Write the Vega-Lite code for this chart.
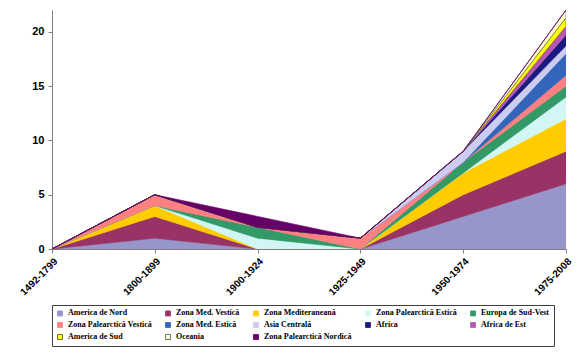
{
  "$schema": "https://vega.github.io/schema/vega-lite/v6.json",
  "width": 514,
  "height": 239,
  "padding": {"left": 18, "top": 10, "right": 10, "bottom": 5},
  "background": "white",
  "config": {
    "view": {"stroke": null},
    "axis": {"labelFont": "Liberation Sans", "labelFontWeight": "bold", "labelColor": "#000000", "domainColor": "#808080", "tickColor": "#808080", "grid": false, "title": null},
    "legend": {"orient": "bottom", "labelFont": "Liberation Serif", "labelFontWeight": "bold", "labelFontSize": 8, "labelColor": "#000000", "symbolType": "square", "symbolSize": 25, "symbolStrokeWidth": 0.8, "columns": 5, "columnPadding": 11, "rowPadding": 2, "padding": 4, "strokeColor": "#404040", "title": null, "labelLimit": 200, "offset": 8}
  },
  "data": {"values": [
    {"p": "1492-1799", "k": 1, "s": "America de Nord", "v": 0},
    {"p": "1492-1799", "k": 2, "s": "Zona Med. Vestică", "v": 0},
    {"p": "1492-1799", "k": 3, "s": "Zona Mediteraneană", "v": 0},
    {"p": "1492-1799", "k": 4, "s": "Zona Palearctică Estică", "v": 0},
    {"p": "1492-1799", "k": 5, "s": "Europa de Sud-Vest", "v": 0},
    {"p": "1492-1799", "k": 6, "s": "Zona Palearctică Vestică", "v": 0},
    {"p": "1492-1799", "k": 7, "s": "Zona Med. Estică", "v": 0},
    {"p": "1492-1799", "k": 8, "s": "Asia Centrală", "v": 0},
    {"p": "1492-1799", "k": 9, "s": "Africa", "v": 0},
    {"p": "1492-1799", "k": 10, "s": "Africa de Est", "v": 0},
    {"p": "1492-1799", "k": 11, "s": "America de Sud", "v": 0},
    {"p": "1492-1799", "k": 12, "s": "Oceania", "v": 0},
    {"p": "1492-1799", "k": 13, "s": "Zona Palearctică Nordică", "v": 0},
    {"p": "1800-1899", "k": 1, "s": "America de Nord", "v": 1},
    {"p": "1800-1899", "k": 2, "s": "Zona Med. Vestică", "v": 2},
    {"p": "1800-1899", "k": 3, "s": "Zona Mediteraneană", "v": 1},
    {"p": "1800-1899", "k": 4, "s": "Zona Palearctică Estică", "v": 0},
    {"p": "1800-1899", "k": 5, "s": "Europa de Sud-Vest", "v": 0},
    {"p": "1800-1899", "k": 6, "s": "Zona Palearctică Vestică", "v": 1},
    {"p": "1800-1899", "k": 7, "s": "Zona Med. Estică", "v": 0},
    {"p": "1800-1899", "k": 8, "s": "Asia Centrală", "v": 0},
    {"p": "1800-1899", "k": 9, "s": "Africa", "v": 0},
    {"p": "1800-1899", "k": 10, "s": "Africa de Est", "v": 0},
    {"p": "1800-1899", "k": 11, "s": "America de Sud", "v": 0},
    {"p": "1800-1899", "k": 12, "s": "Oceania", "v": 0},
    {"p": "1800-1899", "k": 13, "s": "Zona Palearctică Nordică", "v": 0},
    {"p": "1900-1924", "k": 1, "s": "America de Nord", "v": 0},
    {"p": "1900-1924", "k": 2, "s": "Zona Med. Vestică", "v": 0},
    {"p": "1900-1924", "k": 3, "s": "Zona Mediteraneană", "v": 0},
    {"p": "1900-1924", "k": 4, "s": "Zona Palearctică Estică", "v": 1},
    {"p": "1900-1924", "k": 5, "s": "Europa de Sud-Vest", "v": 1},
    {"p": "1900-1924", "k": 6, "s": "Zona Palearctică Vestică", "v": 0},
    {"p": "1900-1924", "k": 7, "s": "Zona Med. Estică", "v": 0},
    {"p": "1900-1924", "k": 8, "s": "Asia Centrală", "v": 0},
    {"p": "1900-1924", "k": 9, "s": "Africa", "v": 0},
    {"p": "1900-1924", "k": 10, "s": "Africa de Est", "v": 0},
    {"p": "1900-1924", "k": 11, "s": "America de Sud", "v": 0},
    {"p": "1900-1924", "k": 12, "s": "Oceania", "v": 0},
    {"p": "1900-1924", "k": 13, "s": "Zona Palearctică Nordică", "v": 1},
    {"p": "1925-1949", "k": 1, "s": "America de Nord", "v": 0},
    {"p": "1925-1949", "k": 2, "s": "Zona Med. Vestică", "v": 0},
    {"p": "1925-1949", "k": 3, "s": "Zona Mediteraneană", "v": 0},
    {"p": "1925-1949", "k": 4, "s": "Zona Palearctică Estică", "v": 0},
    {"p": "1925-1949", "k": 5, "s": "Europa de Sud-Vest", "v": 0},
    {"p": "1925-1949", "k": 6, "s": "Zona Palearctică Vestică", "v": 1},
    {"p": "1925-1949", "k": 7, "s": "Zona Med. Estică", "v": 0},
    {"p": "1925-1949", "k": 8, "s": "Asia Centrală", "v": 0},
    {"p": "1925-1949", "k": 9, "s": "Africa", "v": 0},
    {"p": "1925-1949", "k": 10, "s": "Africa de Est", "v": 0},
    {"p": "1925-1949", "k": 11, "s": "America de Sud", "v": 0},
    {"p": "1925-1949", "k": 12, "s": "Oceania", "v": 0},
    {"p": "1925-1949", "k": 13, "s": "Zona Palearctică Nordică", "v": 0},
    {"p": "1950-1974", "k": 1, "s": "America de Nord", "v": 3},
    {"p": "1950-1974", "k": 2, "s": "Zona Med. Vestică", "v": 2},
    {"p": "1950-1974", "k": 3, "s": "Zona Mediteraneană", "v": 2},
    {"p": "1950-1974", "k": 4, "s": "Zona Palearctică Estică", "v": 0},
    {"p": "1950-1974", "k": 5, "s": "Europa de Sud-Vest", "v": 1},
    {"p": "1950-1974", "k": 6, "s": "Zona Palearctică Vestică", "v": 0},
    {"p": "1950-1974", "k": 7, "s": "Zona Med. Estică", "v": 0},
    {"p": "1950-1974", "k": 8, "s": "Asia Centrală", "v": 1},
    {"p": "1950-1974", "k": 9, "s": "Africa", "v": 0},
    {"p": "1950-1974", "k": 10, "s": "Africa de Est", "v": 0},
    {"p": "1950-1974", "k": 11, "s": "America de Sud", "v": 0},
    {"p": "1950-1974", "k": 12, "s": "Oceania", "v": 0},
    {"p": "1950-1974", "k": 13, "s": "Zona Palearctică Nordică", "v": 0},
    {"p": "1975-2008", "k": 1, "s": "America de Nord", "v": 6},
    {"p": "1975-2008", "k": 2, "s": "Zona Med. Vestică", "v": 3},
    {"p": "1975-2008", "k": 3, "s": "Zona Mediteraneană", "v": 3},
    {"p": "1975-2008", "k": 4, "s": "Zona Palearctică Estică", "v": 2},
    {"p": "1975-2008", "k": 5, "s": "Europa de Sud-Vest", "v": 1},
    {"p": "1975-2008", "k": 6, "s": "Zona Palearctică Vestică", "v": 1},
    {"p": "1975-2008", "k": 7, "s": "Zona Med. Estică", "v": 2},
    {"p": "1975-2008", "k": 8, "s": "Asia Centrală", "v": 0.7},
    {"p": "1975-2008", "k": 9, "s": "Africa", "v": 1},
    {"p": "1975-2008", "k": 10, "s": "Africa de Est", "v": 0.8},
    {"p": "1975-2008", "k": 11, "s": "America de Sud", "v": 0.8},
    {"p": "1975-2008", "k": 12, "s": "Oceania", "v": 0.7},
    {"p": "1975-2008", "k": 13, "s": "Zona Palearctică Nordică", "v": 0}
  ]},
  "mark": {"type": "area", "clip": true, "strokeWidth": 0.6},
  "encoding": {
    "x": {"field": "p", "type": "ordinal", "sort": null,
      "scale": {"type": "point", "padding": 0},
      "axis": {"labelAngle": -45, "labelFontSize": 10, "labelAlign": "right", "labelBaseline": "top", "tickSize": 4, "labelPadding": 3}},
    "y": {"field": "v", "type": "quantitative", "stack": "zero",
      "scale": {"domain": [0, 22], "nice": false},
      "axis": {"values": [0, 5, 10, 15, 20], "labelFontSize": 11, "tickSize": 4, "labelPadding": 4}},
    "order": {"field": "k", "type": "quantitative", "sort": "ascending"},
    "fill": {"field": "s", "type": "nominal",
      "scale": {
        "domain": ["America de Nord", "Zona Med. Vestică", "Zona Mediteraneană", "Zona Palearctică Estică", "Europa de Sud-Vest", "Zona Palearctică Vestică", "Zona Med. Estică", "Asia Centrală", "Africa", "Africa de Est", "America de Sud", "Oceania", "Zona Palearctică Nordică"],
        "range": ["#9696CA", "#993366", "#FFCC00", "#D2F6F6", "#339966", "#FF8080", "#3366BB", "#CCCCF0", "#1A1A80", "#B955B5", "#FFFF00", "#FFFFCC", "#660066"]}},
    "stroke": {"field": "s", "type": "nominal",
      "scale": {
        "domain": ["America de Nord", "Zona Med. Vestică", "Zona Mediteraneană", "Zona Palearctică Estică", "Europa de Sud-Vest", "Zona Palearctică Vestică", "Zona Med. Estică", "Asia Centrală", "Africa", "Africa de Est", "America de Sud", "Oceania", "Zona Palearctică Nordică"],
        "range": ["#9696CA", "#993366", "#FFCC00", "#D2F6F6", "#339966", "#FF8080", "#3366BB", "#CCCCF0", "#1A1A80", "#B955B5", "#555500", "#555555", "#660066"]}}
  }
}
